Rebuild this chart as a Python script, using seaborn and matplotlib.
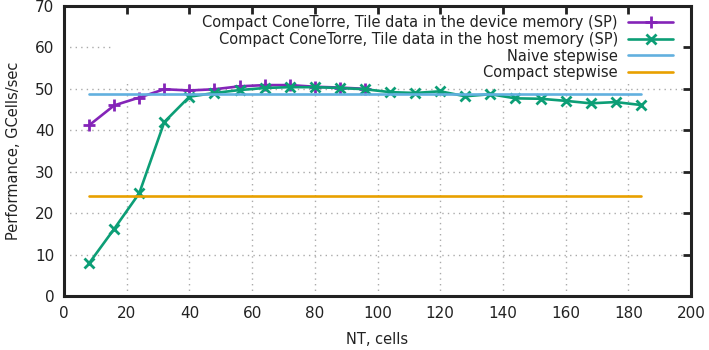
import matplotlib
matplotlib.use("Agg")
import matplotlib.pyplot as plt
from matplotlib.patches import Rectangle
import seaborn as sns
import pandas as pd

# Data
nt_device = [8, 16, 24, 32, 40, 48, 56, 64, 72, 80, 88, 96]
perf_device = [41.2, 46.0, 47.9, 49.9, 49.6, 49.9, 50.6, 50.9, 50.9, 50.5, 50.3, 50.0]

nt_host = [8, 16, 24, 32, 40, 48, 56, 64, 72, 80, 88, 96, 104, 112, 120, 128,
           136, 144, 152, 160, 168, 176, 184]
perf_host = [7.9, 16.2, 24.8, 42.0, 48.1, 49.0, 49.7, 50.2, 50.4, 50.4, 50.2, 49.9,
             49.2, 49.0, 49.4, 48.2, 48.7, 47.7, 47.6, 47.1, 46.5, 46.8, 46.1]

naive_x = [8, 184]
naive_y = [48.8, 48.8]
compact_x = [8, 184]
compact_y = [24.2, 24.2]

labels = ["Compact ConeTorre, Tile data in the device memory (SP)",
          "Compact ConeTorre, Tile data in the host memory (SP)",
          "Naive stepwise",
          "Compact stepwise"]
colors = ["#8424b8", "#0c9e76", "#62b0df", "#e8a000"]
markers = ["+", "x", "None", "None"]

x_ticks = list(range(0, 201, 20))
y_ticks = list(range(0, 71, 10))

sns.set_style("white")
plt.rcParams['font.family'] = ['DejaVu Sans']

fig = plt.figure(figsize=(7.09, 3.5), dpi=100)
ax = fig.add_axes([0.0903, 0.1543, 0.8843, 0.8287])

series = [(nt_device, perf_device), (nt_host, perf_host),
          (naive_x, naive_y), (compact_x, compact_y)]
handles = []
for i, ((xs, ys), lab, col, mk) in enumerate(zip(series, labels, colors, markers)):
    n0 = len(ax.lines)
    sns.lineplot(x=xs, y=ys, ax=ax, color=col, legend=False)
    ln = ax.lines[n0]
    ln.set_linestyle("-")
    ln.set_linewidth(1.9)
    ln.set_marker(mk)
    ln.set_markersize(8 if mk == "+" else 7)
    ln.set_markeredgewidth(2.0)
    ln.set_markeredgecolor(col)
    ln.set_label(lab)
    ln.set_zorder(2 + 0.1 * i)
    handles.append(ln)

ax.set_xlim(0, 200)
ax.set_ylim(0, 70)
ax.set_xticks(x_ticks)
ax.set_yticks(y_ticks)
ax.tick_params(direction="in", length=6, width=2, top=True, right=True,
               labelsize=11, colors="#222222", pad=7)
ax.grid(False)
# dotted grid at tick positions, kept below the key background
for xv in x_ticks[1:-1]:
    ax.axvline(xv, linestyle=(0, (1, 3)), color="#aaaaaa", lw=1, zorder=0.5)
for yv in y_ticks[1:-1]:
    ax.axhline(yv, linestyle=(0, (1, 3)), color="#aaaaaa", lw=1, zorder=0.5)
ax.set_axisbelow(False)
for s in ax.spines.values():
    s.set_linewidth(2.2)
    s.set_color("#222222")
    s.set_visible(True)

# opaque key background (gnuplot style), below the data lines
ax.add_patch(Rectangle((0.08, 0.745), 0.92, 0.255, transform=ax.transAxes,
                       facecolor="white", edgecolor="none", zorder=1.5))

ax.set_xlabel("NT, cells", fontsize=10.5, color="#222222", labelpad=8)
ax.set_ylabel("Performance, GCells/sec", fontsize=10.5, color="#222222", labelpad=10)

leg = ax.legend(handles=handles, labels=labels, loc="upper right", markerfirst=False,
                frameon=False, fontsize=10.5, handlelength=3.1, borderpad=0.25,
                labelspacing=0.12, handletextpad=0.7, borderaxespad=0.0,
                bbox_to_anchor=(1 - 14 / 627, 1 - 5.5 / 290))
for t in leg.get_texts():
    t.set_ha("right")
    t.set_color("#222222")
leg._legend_box.align = "right"

fig.savefig("out.png", dpi=100)
